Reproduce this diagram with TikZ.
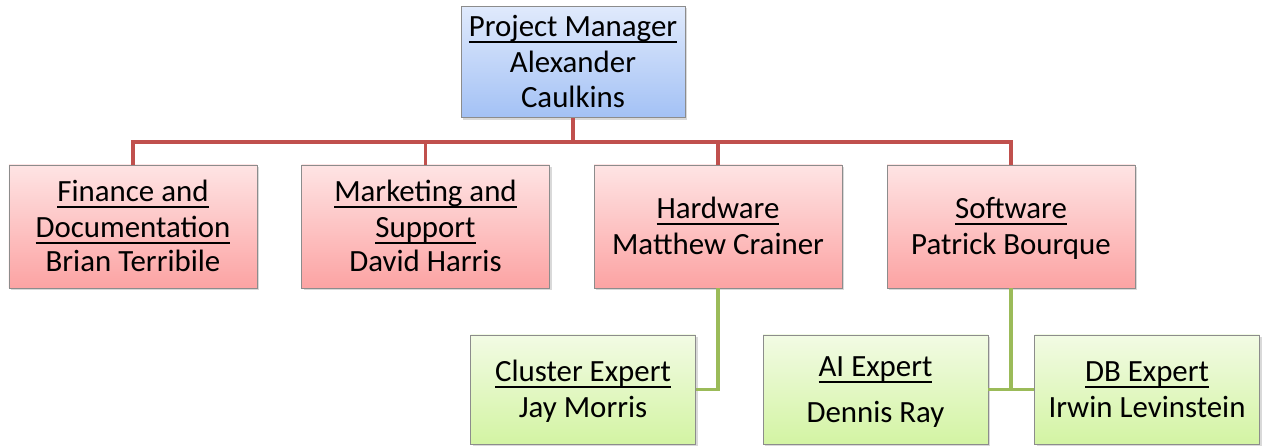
\documentclass[tikz,border=0pt]{standalone}
\usepackage{fontspec}
\setmainfont{Carlito}
\usetikzlibrary{shadows}

% underline set a little below the baseline
\newcommand\uln[1]{\setbox0\hbox{#1}\rlap{\rule[-6.5bp]{\wd0}{2bp}}\box0}
% struts: a taller one on the first line lowers the block a little
\newcommand\topstrut{\rule[-10.5bp]{0pt}{41bp}}
\newcommand\sline[1]{\strut#1}

\definecolor{bordergray}{HTML}{8C8C8C}
\definecolor{bluetop}{HTML}{E0EAFC}
\definecolor{bluebot}{HTML}{A3C1F5}
\definecolor{redtop}{HTML}{FEE4E4}
\definecolor{redbot}{HTML}{FCA3A3}
\definecolor{greentop}{HTML}{F2FBE4}
\definecolor{greenbot}{HTML}{D3F4A3}
\definecolor{redline}{HTML}{C0504D}
\definecolor{greenline}{HTML}{9BBB59}

\tikzset{
  orgbox/.style={draw=bordergray, line width=0.8bp, align=center, inner sep=0pt,
    font=\fontsize{31}{35}\selectfont,
    drop shadow={opacity=0.3, shadow xshift=2bp, shadow yshift=-2bp}},
  topbox/.style={orgbox, top color=bluetop, bottom color=bluebot,
    minimum width=224bp, minimum height=110bp},
  deptbox/.style={orgbox, top color=redtop, bottom color=redbot,
    minimum width=248bp, minimum height=123bp},
  teambox/.style={orgbox, top color=greentop, bottom color=greenbot,
    minimum width=225bp, minimum height=109bp},
  redlink/.style={draw=redline, line width=3.5bp},
  greenlink/.style={draw=greenline, line width=3.5bp},
}

\begin{document}
\begin{tikzpicture}[x=1bp, y=-1bp]
\useasboundingbox (0,0) rectangle (1262,446);

% top level
\node[topbox] (pm) at (573,62) {\topstrut\uln{Project Manager}\\\sline{Alexander}\\\sline{Caulkins}};

% departments
\node[deptbox] (fin) at (133,226.5) {\topstrut\uln{Finance and}\\\strut\uln{Documentation}\\\sline{Brian Terribile}};
\node[deptbox] (mkt) at (425.5,226.5) {\topstrut\uln{Marketing and}\\\strut\uln{Support}\\\sline{David Harris}};
\node[deptbox] (hw)  at (718,226.5) {\topstrut\uln{Hardware}\\\sline{Matthew Crainer}};
\node[deptbox] (sw)  at (1011,226.5) {\topstrut\uln{Software}\\\sline{Patrick Bourque}};

% experts
\node[teambox] (cl) at (583,389.5) {\topstrut\uln{Cluster Expert}\\\sline{Jay Morris}};
\node[teambox] (ai) at (875.5,389.5) {\topstrut\uln{AI Expert}\\[10bp]\sline{Dennis Ray}};
\node[teambox] (db) at (1147,389.5) {\topstrut\uln{DB Expert}\\\sline{Irwin Levinstein}};

% manager to departments
\coordinate (bus) at (573,142);
\draw[redlink] (pm.south) -- (bus);
\draw[redlink] (bus) -| (fin.north);
\draw[redlink] (bus) -| (mkt.north);
\draw[redlink] (bus) -| (hw.north);
\draw[redlink] (bus) -| (sw.north);

% departments to experts
\draw[greenlink] (hw.south) |- (cl.east);
\draw[greenlink] (sw.south) |- (ai.east);
\draw[greenlink] (sw.south) |- (db.west);
\end{tikzpicture}
\end{document}
